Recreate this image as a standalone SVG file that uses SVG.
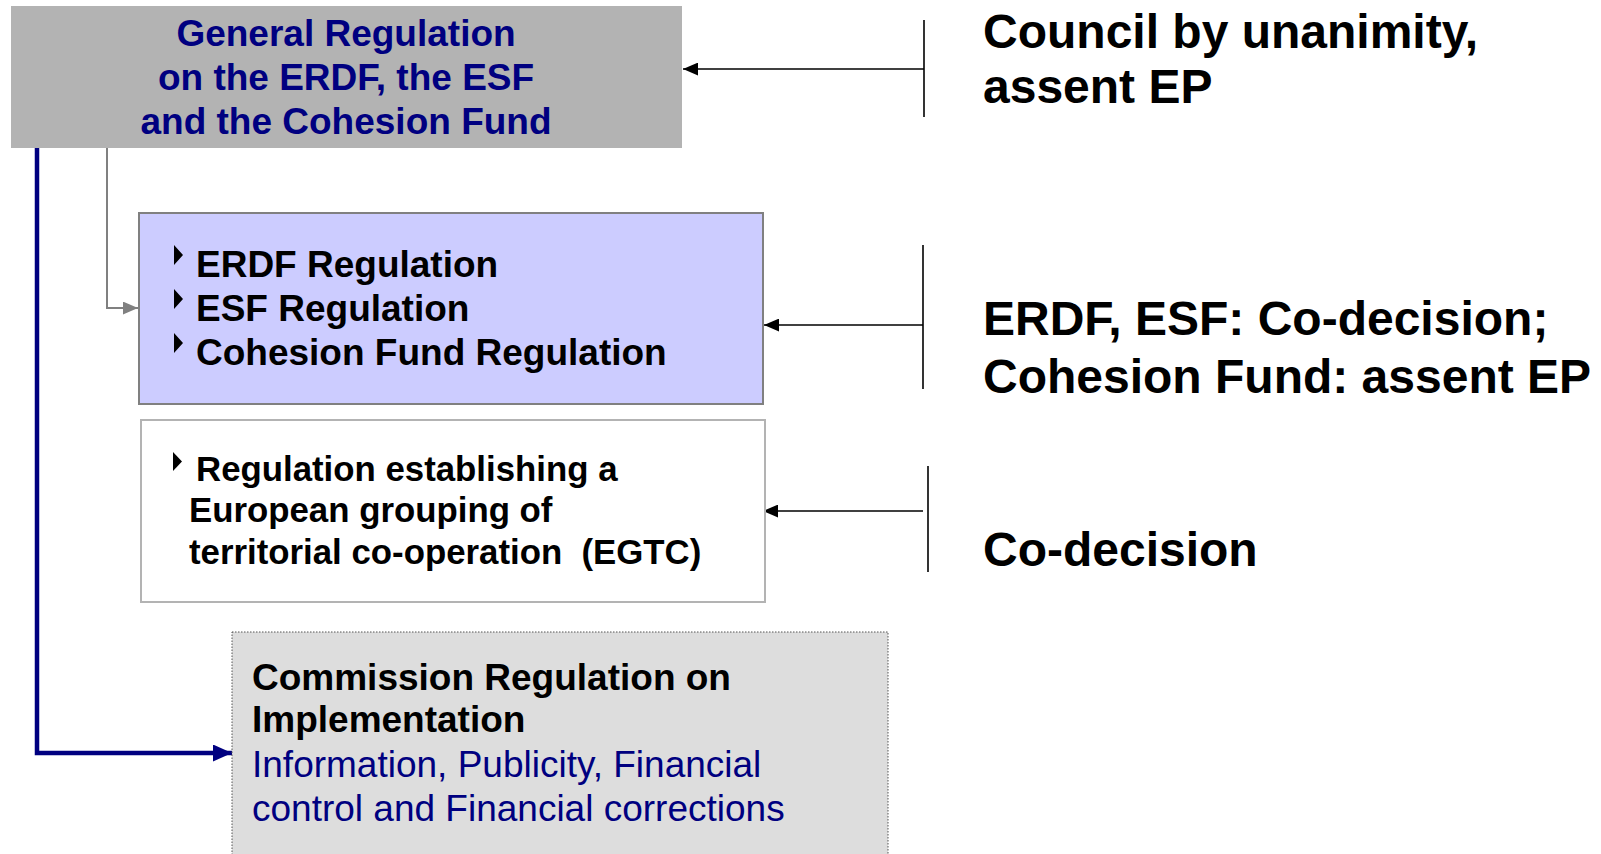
<svg xmlns="http://www.w3.org/2000/svg" width="1601" height="854" viewBox="0 0 1601 854">
<defs>
<style>
text{font-family:"Liberation Sans",Arial,sans-serif}
.b{font-weight:bold}
.navy{fill:#000080}
.blk{fill:#000}
.f37{font-size:37px}
.f35{font-size:35px}
.f48{font-size:48px}
.thin{stroke:#000;stroke-width:1.6;fill:none}
</style>
<marker id="ahBlack" viewBox="0 0 14 12" refX="14" refY="6" markerWidth="15" markerHeight="13" orient="auto" markerUnits="userSpaceOnUse"><path d="M0,0 L14,6 L0,12 z" fill="#000"/></marker>
<marker id="ahGray" viewBox="0 0 14 12" refX="14" refY="6" markerWidth="15" markerHeight="13" orient="auto" markerUnits="userSpaceOnUse"><path d="M0,0 L14,6 L0,12 z" fill="#808080"/></marker>
<marker id="ahNavy" viewBox="0 0 19 17" refX="19" refY="8.5" markerWidth="19" markerHeight="17" orient="auto" markerUnits="userSpaceOnUse"><path d="M0,0 L19,8.5 L0,17 z" fill="#000080"/></marker>
</defs>
<rect width="1601" height="854" fill="#fff"/>

<g id="connectors">
<path d="M37,147 V753 H232" fill="none" stroke="#000080" stroke-width="4.5" marker-end="url(#ahNavy)"/>
<path d="M107,148 V308 H138" fill="none" stroke="#808080" stroke-width="2" marker-end="url(#ahGray)"/>
<line x1="924" y1="20" x2="924" y2="117" class="thin"/>
<line x1="924" y1="69" x2="683" y2="69" class="thin" marker-end="url(#ahBlack)"/>
<line x1="923" y1="245" x2="923" y2="389" class="thin"/>
<line x1="923" y1="325" x2="764" y2="325" class="thin" marker-end="url(#ahBlack)"/>
<line x1="928" y1="466" x2="928" y2="572" class="thin"/>
<line x1="923" y1="511" x2="763" y2="511" class="thin" marker-end="url(#ahBlack)"/>
</g>

<g id="general">
<rect x="11" y="6" width="671" height="142" fill="#b3b3b3"/>
<text class="b navy f37" text-anchor="middle" x="346" y="46">General Regulation</text>
<text class="b navy f37" text-anchor="middle" x="346" y="90">on the ERDF, the ESF</text>
<text class="b navy f37" text-anchor="middle" x="346" y="134">and the Cohesion Fund</text>
</g>

<g id="fund-regs">
<rect x="139" y="213" width="624" height="191" fill="#ccccff" stroke="#808080" stroke-width="2"/>
<path d="M174,245 L183,255 L174,265 z M174,289 L183,299 L174,309 z M174,333 L183,343 L174,353 z" fill="#000"/>
<text class="b blk f37" x="196" y="277">ERDF Regulation</text>
<text class="b blk f37" x="196" y="321">ESF Regulation</text>
<text class="b blk f37" x="196" y="365">Cohesion Fund Regulation</text>
</g>

<g id="egtc">
<rect x="141" y="420" width="624" height="182" fill="#fff" stroke="#b3b3b3" stroke-width="2"/>
<path d="M173,452 L182,461.5 L173,471 z" fill="#000"/>
<text class="b blk" style="font-size:34.8px" x="196" y="481">Regulation establishing a</text>
<text class="b blk" style="font-size:34.8px" x="189" y="522">European grouping of</text>
<text class="b blk" style="font-size:34.8px" x="189" y="564" xml:space="preserve">territorial co-operation  (EGTC)</text>
</g>

<g id="commission">
<rect x="232" y="632" width="656" height="240" fill="#dddddd" stroke="#555" stroke-width="1" stroke-dasharray="1.5,1.5"/>
<text class="b blk f37" x="252" y="690">Commission Regulation on</text>
<text class="b blk f37" x="252" y="732">Implementation</text>
<text class="navy f37" x="252" y="777">Information, Publicity, Financial</text>
<text class="navy f37" x="252" y="821">control and Financial corrections</text>
</g>

<g id="labels">
<text class="b blk f48" x="983" y="48">Council by unanimity,</text>
<text class="b blk f48" x="983" y="103">assent EP</text>
<text class="b blk f48" x="983" y="335">ERDF, ESF: Co-decision;</text>
<text class="b blk f48" x="983" y="393">Cohesion Fund: assent EP</text>
<text class="b blk f48" x="983" y="566">Co-decision</text>
</g>
</svg>
